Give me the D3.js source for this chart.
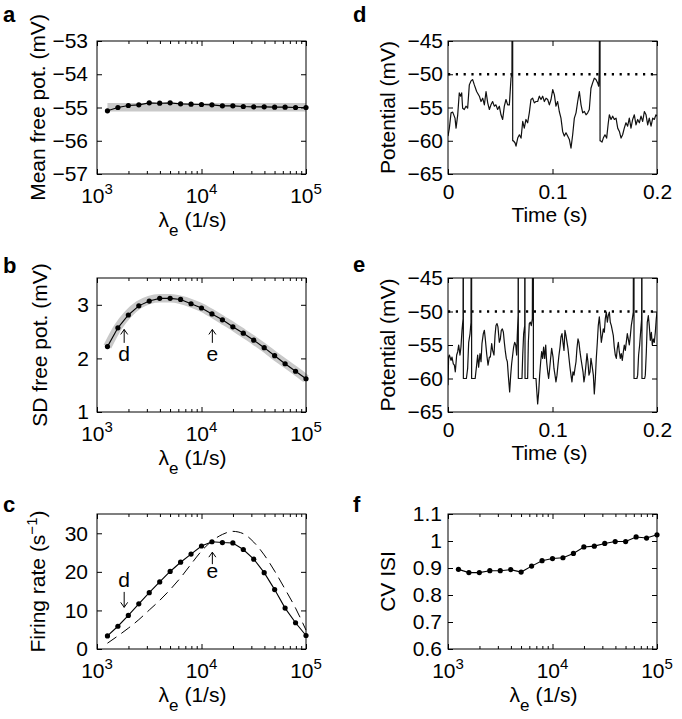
<!DOCTYPE html>
<html>
<head>
<meta charset="utf-8">
<script src="https://cdn.jsdelivr.net/npm/d3@7"></script>
<style>
body { margin: 0; background: #fff; }
text { font-family: "Liberation Sans", Arial, Helvetica, sans-serif; fill: #000; }
</style>
</head>
<body>
<script>
// excitatory input rate (1/s), shared grid of the rate panels
var lambdaE = [1259, 1585, 1995, 2512, 3162, 3981, 5012, 6310, 7943, 10000,
               12589, 15849, 19953, 25119, 31623, 39811, 50119, 63096, 79433, 100000];

// a: mean free potential (mV)
var meanFree = [-55.10, -55.00, -54.94, -54.92, -54.86, -54.87, -54.86, -54.89, -54.90, -54.91,
                -54.92, -54.95, -54.95, -54.97, -54.98, -54.98, -54.99, -54.99, -55.00, -55.00];
var meanTheory = [-54.99, -54.99, -54.99, -54.99, -54.99, -54.99, -54.99, -54.99, -54.99, -54.99,
                  -54.99, -54.99, -54.99, -54.99, -54.99, -54.99, -54.99, -54.99, -54.99, -54.99];

// b: SD of free potential (mV)
var sdFree = [2.22, 2.57, 2.81, 2.98, 3.07, 3.12, 3.12, 3.10, 3.02, 2.94,
              2.83, 2.72, 2.59, 2.47, 2.34, 2.20, 2.05, 1.90, 1.76, 1.62];
var sdTheory = [2.22, 2.58, 2.83, 3.00, 3.09, 3.12, 3.12, 3.09, 3.03, 2.95,
                2.84, 2.72, 2.60, 2.47, 2.34, 2.20, 2.05, 1.91, 1.77, 1.62];

// c: firing rate (1/s), simulation and dashed curve
var rateSim = [3.4, 5.9, 8.7, 11.7, 14.6, 17.4, 20.1, 22.5, 24.6, 26.7,
               27.8, 27.6, 27.5, 25.8, 23.3, 19.8, 15.4, 10.6, 6.8, 3.5];
var rateTheory = [1.5, 3.4, 5.4, 7.6, 10.1, 12.6, 15.4, 18.5, 22.0, 25.4,
                  28.0, 29.7, 30.5, 29.9, 27.7, 24.4, 20.2, 15.5, 10.6, 4.9];

// f: CV of ISI
var cvISI = [0.895, 0.883, 0.883, 0.890, 0.890, 0.894, 0.885, 0.907, 0.927, 0.935,
             0.938, 0.954, 0.978, 0.981, 0.991, 0.998, 0.998, 1.015, 1.011, 1.023];

// d, e: membrane potential traces [time (ms), potential (mV)] and spike times (ms)
var traceD = [[0.0,-59.3],[1.3,-58.1],[2.9,-55.8],[4.5,-55.7],[6.7,-56.6],[7.7,-58.1],[9.3,-56.1],[10.8,-52.8],
  [12.1,-53.3],[13.1,-52.8],[14.0,-55.1],[15.6,-55.3],[17.2,-54.8],[18.8,-55.1],[20.4,-51.6],[22.0,-51.0],
  [23.6,-50.8],[25.2,-51.6],[27.4,-52.6],[30.0,-53.3],[31.6,-54.1],[33.2,-53.6],[34.8,-54.6],[36.4,-52.6],
  [38.0,-54.3],[39.6,-55.3],[41.1,-54.6],[42.7,-54.1],[44.3,-54.8],[45.9,-54.6],[47.5,-55.3],[49.1,-54.8],
  [50.7,-56.1],[52.3,-56.8],[53.9,-54.8],[55.5,-53.8],[57.1,-54.6],[58.7,-54.6],[60.3,-50.6],[61.2,-49.8],
  [62.5,-60.0],[64.1,-60.3],[65.1,-60.8],[66.7,-59.6],[68.3,-59.1],[69.9,-59.6],[71.5,-57.1],[73.0,-58.1],
  [74.6,-56.8],[76.2,-57.3],[77.8,-55.8],[79.4,-53.8],[81.0,-53.6],[82.6,-54.3],[84.2,-54.1],[85.8,-54.1],
  [87.4,-53.3],[89.0,-53.8],[90.6,-53.3],[92.2,-54.1],[93.8,-53.6],[95.4,-53.8],[97.0,-54.6],[98.6,-53.8],
  [100.2,-52.3],[101.8,-53.1],[103.3,-54.8],[104.9,-54.1],[106.5,-55.6],[108.1,-56.6],[109.7,-58.6],[111.3,-59.3],
  [112.9,-58.8],[114.5,-59.3],[116.1,-59.8],[117.7,-61.1],[119.3,-59.1],[120.9,-56.6],[122.5,-55.8],[124.1,-54.1],
  [125.7,-52.6],[127.3,-54.6],[128.9,-55.8],[130.5,-55.6],[132.1,-56.1],[133.7,-55.8],[135.2,-55.3],[136.8,-52.1],
  [138.4,-51.3],[140.0,-50.6],[141.6,-50.8],[143.2,-51.3],[144.2,-51.8],[144.8,-49.3],
  [145.8,-60.0],[147.4,-60.2],[148.6,-59.6],[150.2,-59.1],[151.8,-59.6],[153.4,-57.3],[154.4,-56.1],[156.0,-56.8],
  [157.6,-56.3],[159.2,-56.8],[160.8,-56.6],[162.4,-58.1],[164.0,-58.6],[165.6,-59.6],[167.1,-59.1],[168.7,-58.1],
  [170.3,-57.3],[171.9,-57.8],[173.5,-56.6],[175.1,-58.1],[176.7,-56.8],[178.3,-56.1],[179.9,-57.6],[181.5,-56.8],
  [183.1,-57.3],[184.7,-56.3],[186.3,-57.1],[187.9,-55.6],[189.5,-56.1],[191.1,-57.6],[192.6,-56.6],[194.3,-57.8],
  [195.9,-56.6],[197.4,-56.8],[199.0,-56.1],[200.0,-56.3]];
var spikesD = [61.9, 145.5];

var traceE = [[0.0,-61.0],[0.6,-56.8],[1.3,-56.5],[2.9,-57.3],[3.8,-56.8],[5.1,-57.8],[6.1,-58.0],[7.0,-59.0],
  [8.3,-56.5],[9.3,-56.0],[10.2,-55.0],[11.5,-56.5],[12.4,-55.3],[13.4,-52.8],[14.4,-51.1],
  [17.6,-60.0],[18.8,-58.5],[19.8,-54.6],[21.1,-53.3],[22.0,-51.6],
  [26.0,-60.0],[27.4,-58.0],[28.4,-56.5],[29.3,-58.3],[30.6,-56.3],[31.6,-57.5],[32.5,-54.8],[33.8,-53.3],
  [34.8,-52.8],[35.7,-54.1],[37.0,-56.3],[38.3,-58.0],[39.6,-56.8],[40.5,-56.8],[41.8,-54.8],[42.7,-55.8],
  [44.0,-56.5],[45.0,-53.6],[45.9,-52.1],[46.9,-51.8],[47.8,-52.3],[49.1,-54.6],[50.1,-54.1],[51.0,-52.8],
  [52.0,-52.6],[53.0,-53.1],[53.9,-54.6],[54.9,-56.0],[55.8,-57.0],[56.8,-57.5],[57.7,-59.5],[59.0,-62.0],
  [60.0,-59.5],[60.9,-57.8],[61.9,-56.5],[62.8,-55.3],[63.8,-54.6],[64.8,-55.0],[65.7,-56.5],[66.3,-53.6],[67.1,-50.5],
  [70.8,-60.0],[71.5,-56.5],[72.4,-53.3],[73.4,-52.1],
  [76.2,-60.0],[76.9,-54.6],[77.8,-51.8],[78.8,-51.6],[79.7,-52.1],[80.7,-51.1],
  [84.2,-60.0],[84.8,-61.5],[85.8,-63.8],[86.8,-62.0],[87.7,-59.5],[88.7,-57.5],[89.6,-56.0],[90.6,-57.0],
  [91.5,-55.3],[92.5,-57.0],[93.5,-55.0],[94.4,-57.5],[95.4,-59.0],[96.3,-60.0],[97.3,-58.5],[98.2,-57.0],
  [99.2,-55.5],[100.5,-56.8],[101.4,-58.5],[102.4,-59.5],[103.3,-60.5],[104.3,-59.5],[105.2,-58.0],[106.2,-56.5],
  [107.2,-55.3],[108.1,-53.8],[109.1,-53.3],[110.0,-54.6],[111.0,-55.8],[111.9,-52.8],[112.9,-53.6],[113.9,-54.6],
  [114.8,-55.5],[115.8,-57.0],[116.7,-58.3],[117.7,-59.5],[118.6,-60.5],[119.6,-59.0],[120.6,-59.5],[121.5,-58.5],
  [122.5,-57.5],[123.4,-55.5],[124.4,-54.1],[125.3,-54.6],[126.3,-56.0],[127.2,-57.0],[128.2,-58.0],[129.2,-59.0],
  [130.1,-60.5],[131.1,-59.5],[132.0,-58.0],[133.0,-56.3],[133.9,-57.5],[134.9,-59.5],[135.9,-59.0],[136.8,-57.0],
  [137.8,-58.0],[139.1,-59.5],[140.0,-62.3],[141.0,-60.0],[141.9,-57.0],[142.9,-54.6],[143.8,-52.1],[144.8,-50.8],
  [145.8,-52.6],[146.7,-54.6],[147.7,-53.6],[148.6,-52.6],[149.6,-53.1],[150.5,-51.1],[151.5,-50.1],[152.5,-51.6],
  [153.4,-50.6],[154.4,-50.1],[155.3,-51.6],[156.3,-52.1],[157.2,-52.8],[158.2,-53.6],[159.1,-55.3],[160.1,-56.5],
  [161.1,-57.0],[162.0,-55.5],[163.0,-54.6],[163.9,-56.0],[164.9,-57.0],[165.8,-56.3],[166.8,-57.3],[167.8,-56.0],
  [168.7,-55.0],[169.7,-55.8],[170.6,-54.6],[171.6,-53.3],[172.5,-54.1],[173.5,-55.0],[174.5,-53.6],[175.4,-52.1],
  [176.4,-51.1],[177.3,-50.1],
  [180.8,-60.0],[181.5,-59.5],[182.4,-56.5],[183.4,-55.0],[184.3,-53.1],[185.3,-51.1],
  [188.2,-60.0],[188.8,-59.5],[189.8,-56.0],[190.7,-51.6],[191.7,-50.6],[192.6,-52.1],[193.6,-54.3],[194.6,-53.1],
  [195.5,-55.0],[196.5,-54.1],[197.4,-54.6],[198.4,-53.1],[199.3,-51.1],[200.0,-50.1]];
var spikesE = [14.7, 22.6, 67.3, 73.7, 81.7, 178.0, 185.6];

var threshold = -50, resetV = -60, spikePeak = 0;

// arrow annotations (data coordinates)
var marksB = [{ label: "d", lam: 1820, tip: 2.54, tail: 2.29, text: 1.96 },
              { label: "e", lam: 12700, tip: 2.54, tail: 2.29, text: 1.96 }];
var marksC = [{ label: "d", lam: 1820, tip: 10.8, tail: 14.8, text: 16.2 },
              { label: "e", lam: 12700, tip: 25.1, tail: 22.0, text: 18.4 }];

// layout
var colX = [97, 448], rowY = [41, 278, 514], rowH = [133, 134, 135], pw = 209;
var fs = 21;
var bandColor = "#c9c9c9";

var svg = d3.select("body").append("svg")
    .attr("width", 682)
    .attr("height", 719);

function makePanel(col, row) {
    var g = svg.append("g")
        .attr("transform", "translate(" + colX[col] + "," + rowY[row] + ")");
    g.h = rowH[row];
    return g;
}

function panelLetter(s, x, y) {
    svg.append("text").attr("x", x).attr("y", y)
        .attr("font-size", 22).attr("font-weight", "bold")
        .text(s);
}

// box with inward ticks on all four sides
function frame(g, x, y, o) {
    var h = g.h;
    var fix = function (sel) {
        sel.select(".domain").remove();
        sel.selectAll("line").attr("stroke", "#000");
        sel.attr("font-size", fs);
    };
    g.append("g").call(d3.axisLeft(y).tickValues(o.yTicks).tickSize(-5)
        .tickPadding(o.yPad).tickFormat(o.yFormat)).call(fix);
    g.append("g").attr("transform", "translate(" + pw + ",0)")
        .call(d3.axisRight(y).tickValues(o.yTicks).tickSize(-5).tickFormat("")).call(fix);

    if (o.log) {
        var all = x.ticks();
        var major = all.filter(function (d) { return Math.abs(Math.log10(d) % 1) < 1e-9; });
        var minor = all.filter(function (d) { return major.indexOf(d) < 0; });
        [0, h].forEach(function (yy, i) {
            var ax = i ? d3.axisBottom : d3.axisTop;
            g.append("g").attr("transform", "translate(0," + yy + ")")
                .call(ax(x).tickValues(major).tickSize(-5).tickFormat("")).call(fix);
            g.append("g").attr("transform", "translate(0," + yy + ")")
                .call(ax(x).tickValues(minor).tickSize(-3).tickFormat("")).call(fix);
        });
        major.forEach(function (d) {
            var t = g.append("text").attr("x", x(d)).attr("y", h + 29)
                .attr("text-anchor", "middle").attr("font-size", fs);
            t.append("tspan").text("10");
            t.append("tspan").attr("dy", -9).attr("font-size", 15).text(Math.round(Math.log10(d)));
        });
    } else {
        g.append("g").attr("transform", "translate(0," + h + ")")
            .call(d3.axisBottom(x).tickValues(o.xTicks).tickSize(-5).tickPadding(10)
                .tickFormat(o.xFormat)).call(fix);
        g.append("g")
            .call(d3.axisTop(x).tickValues(o.xTicks).tickSize(-5).tickFormat("")).call(fix);
    }

    g.append("rect").attr("width", pw).attr("height", h)
        .attr("fill", "none").attr("stroke", "#000").attr("stroke-width", 1);
}

function yLabel(g, bx, parts) {
    var t = g.append("text")
        .attr("transform", "translate(" + bx + "," + (g.h / 2) + ") rotate(-90)")
        .attr("text-anchor", "middle").attr("font-size", fs);
    parts.forEach(function (p) {
        var s = t.append("tspan").text(p.s);
        if (p.dy) s.attr("dy", p.dy);
        if (p.size) s.attr("font-size", p.size);
    });
}

function lambdaLabel(g) {
    var t = g.append("text").attr("x", pw / 2 - 9).attr("y", g.h + 53)
        .attr("text-anchor", "middle").attr("font-size", fs);
    t.append("tspan").text("\u03bb");
    t.append("tspan").attr("dy", 9).attr("font-size", 17).text("e");
    t.append("tspan").attr("dy", -9).text(" (1/s)");
}

function timeLabel(g) {
    g.append("text").attr("x", pw / 2 - 3).attr("y", g.h + 48)
        .attr("text-anchor", "middle").attr("font-size", fs).text("Time (s)");
}

function rateSeries(g, x, y, vals, dots) {
    var line = d3.line()
        .x(function (d, i) { return x(lambdaE[i]); })
        .y(function (d) { return y(d); });
    g.append("path").datum(vals).attr("d", line)
        .attr("fill", "none").attr("stroke", "#000").attr("stroke-width", 1.1);
    if (dots) {
        g.selectAll(null).data(vals).enter().append("circle")
            .attr("cx", function (d, i) { return x(lambdaE[i]); })
            .attr("cy", function (d) { return y(d); })
            .attr("r", 2.6).attr("fill", "#000");
    }
}

function band(g, x, y, vals) {
    var line = d3.line()
        .x(function (d, i) { return x(lambdaE[i]); })
        .y(function (d) { return y(d); })
        .curve(d3.curveMonotoneX);
    g.append("path").datum(vals).attr("d", line)
        .attr("fill", "none").attr("stroke", bandColor).attr("stroke-width", 8.5)
        .attr("stroke-linecap", "butt");
}

function arrows(g, x, y, marks) {
    marks.forEach(function (m) {
        var px = x(m.lam), t = y(m.tip), b = y(m.tail);
        var dir = t < b ? 1 : -1;
        g.append("path")
            .attr("d", "M" + px + "," + b + "L" + px + "," + t +
                "M" + (px - 3.5) + "," + (t + dir * 5) + "L" + px + "," + t + "L" + (px + 3.5) + "," + (t + dir * 5))
            .attr("fill", "none").attr("stroke", "#000").attr("stroke-width", 1);
        g.append("text").attr("x", px).attr("y", y(m.text))
            .attr("text-anchor", "middle").attr("font-size", fs).text(m.label);
    });
}

function xLog() { return d3.scaleLog().domain([1e3, 1e5]).range([0, pw]); }

// ---------- a ----------
var ga = makePanel(0, 0);
var xa = xLog(), ya = d3.scaleLinear().domain([-57, -53]).range([ga.h, 0]);
band(ga, xa, ya, meanTheory);
rateSeries(ga, xa, ya, meanFree, true);
frame(ga, xa, ya, { log: true, yTicks: [-57, -56, -55, -54, -53], yPad: 9, yFormat: d3.format("d") });
yLabel(ga, -52, [{ s: "Mean free pot. (mV)" }]);
lambdaLabel(ga);
panelLetter("a", 3, 22);

// ---------- b ----------
var gb = makePanel(0, 1);
var xb = xLog(), yb = d3.scaleLinear().domain([1, 3.5]).range([gb.h, 0]);
band(gb, xb, yb, sdTheory);
rateSeries(gb, xb, yb, sdFree, true);
arrows(gb, xb, yb, marksB);
frame(gb, xb, yb, { log: true, yTicks: [1, 2, 3], yPad: 8, yFormat: d3.format("d") });
yLabel(gb, -50, [{ s: "SD free pot. (mV)" }]);
lambdaLabel(gb);
panelLetter("b", 3, 273);

// ---------- c ----------
var gc = makePanel(0, 2);
var xc = xLog(), yc = d3.scaleLinear().domain([0, 35]).range([gc.h, 0]);
var dashLine = d3.line()
    .x(function (d, i) { return xc(lambdaE[i]); })
    .y(function (d) { return yc(d); })
    .curve(d3.curveMonotoneX);
gc.append("path").datum(rateTheory).attr("d", dashLine)
    .attr("fill", "none").attr("stroke", "#000").attr("stroke-width", 1)
    .attr("stroke-dasharray", "11,6");
rateSeries(gc, xc, yc, rateSim, true);
arrows(gc, xc, yc, marksC);
frame(gc, xc, yc, { log: true, yTicks: [0, 10, 20, 30], yPad: 9, yFormat: d3.format("d") });
yLabel(gc, -52, [{ s: "Firing rate (s" }, { s: "\u22121", dy: -8, size: 15 }, { s: ")", dy: 8 }]);
lambdaLabel(gc);
panelLetter("c", 3, 512);

// ---------- d, e: voltage traces ----------
function tracePanel(row, trace, spikes, letter, ly) {
    var g = makePanel(1, row);
    var x = d3.scaleLinear().domain([0, 0.2]).range([0, pw]);
    var y = d3.scaleLinear().domain([-65, -45]).range([g.h, 0]);

    // merge spikes (up to peak, back to reset) into the trace
    var pts = trace.map(function (p) { return { t: p[0], v: p[1], k: 0 }; });
    spikes.forEach(function (s) {
        pts.push({ t: s, v: spikePeak, k: 1 });
        pts.push({ t: s, v: resetV, k: 2 });
    });
    pts.sort(function (a, b) { return a.t - b.t || a.k - b.k; });

    var clipId = "clip" + letter;
    g.append("clipPath").attr("id", clipId)
        .append("rect").attr("width", pw).attr("height", g.h);

    g.append("line")
        .attr("x1", x(0)).attr("x2", x(0.2))
        .attr("y1", y(threshold)).attr("y2", y(threshold))
        .attr("stroke", "#000").attr("stroke-width", 2.6)
        .attr("stroke-dasharray", "2.2,5.6");

    var line = d3.line()
        .x(function (d) { return x(d.t / 1000); })
        .y(function (d) { return y(d.v); });
    g.append("path").datum(pts).attr("d", line)
        .attr("clip-path", "url(#" + clipId + ")")
        .attr("fill", "none").attr("stroke", "#111").attr("stroke-width", 1.2)
        .attr("stroke-linejoin", "round");

    frame(g, x, y, {
        log: false, xTicks: [0, 0.1, 0.2], xFormat: function (d) { return d === 0 ? "0" : d3.format(".1f")(d); },
        yTicks: [-65, -60, -55, -50, -45], yPad: 5, yFormat: d3.format("d")
    });
    yLabel(g, -53, [{ s: "Potential (mV)" }]);
    timeLabel(g);
    panelLetter(letter, 353, ly);
}
tracePanel(0, traceD, spikesD, "d", 22);
tracePanel(1, traceE, spikesE, "e", 272);

// ---------- f ----------
var gf = makePanel(1, 2);
var xf = xLog(), yf = d3.scaleLinear().domain([0.6, 1.1]).range([gf.h, 0]);
rateSeries(gf, xf, yf, cvISI, true);
frame(gf, xf, yf, {
    log: true, yTicks: [0.6, 0.7, 0.8, 0.9, 1.0, 1.1], yPad: 6,
    yFormat: function (d) { return d === 1 ? "1" : d3.format(".1f")(d); }
});
yLabel(gf, -53, [{ s: "CV ISI" }]);
lambdaLabel(gf);
panelLetter("f", 353, 512);
</script>
</body>
</html>
